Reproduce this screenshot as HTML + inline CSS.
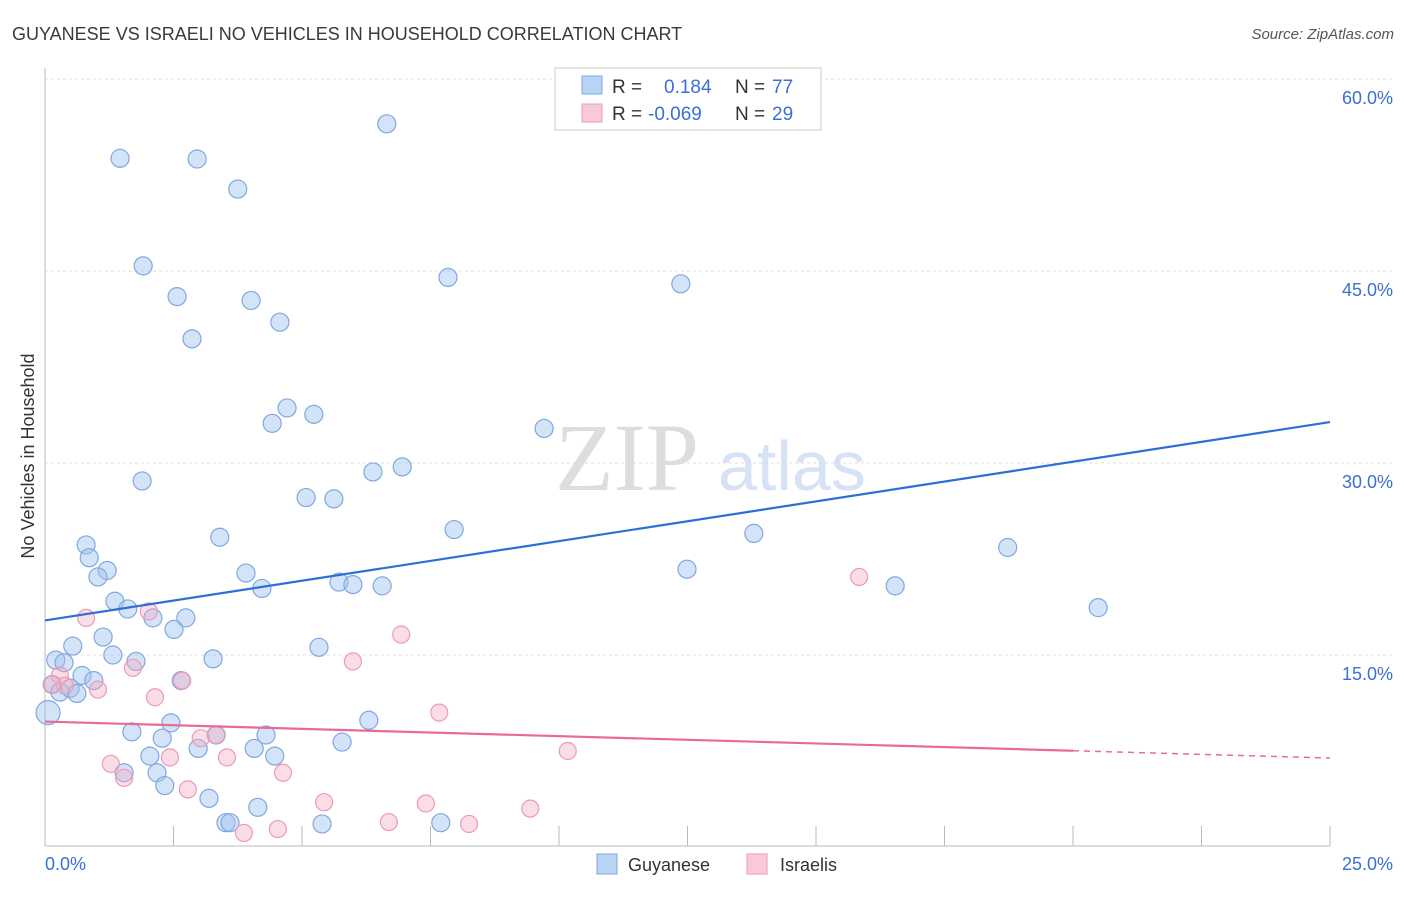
<!DOCTYPE html>
<html><head><meta charset="utf-8">
<style>
body{margin:0;background:#fff;font-family:"Liberation Sans",sans-serif;}
svg text{font-family:"Liberation Sans",sans-serif;}
</style></head>
<body>
<svg id="chart" width="1406" height="892" xmlns="http://www.w3.org/2000/svg">
<text x="12" y="40" font-size="18" fill="#3a3a3a">GUYANESE VS ISRAELI NO VEHICLES IN HOUSEHOLD CORRELATION CHART</text>
<text x="1394" y="39" font-size="15" fill="#555" text-anchor="end" font-style="italic">Source: ZipAtlas.com</text>
<text x="555" y="490" font-size="96" fill="#ddd" style="font-family:'Liberation Serif',serif">ZIP</text>
<text x="718" y="490" font-size="70" fill="#d6e2f5">atlas</text>
<text transform="translate(34,456) rotate(-90)" font-size="18" fill="#333" text-anchor="middle">No Vehicles in Household</text>
<g id="grid"></g><g id="marks"></g>
<g>
<rect x="555" y="68" width="266" height="62" fill="#fff" stroke="#ccc"/>
<rect x="582" y="76" width="20" height="18" fill="#b8d3f6" stroke="#7fa8e0"/>
<rect x="582" y="104" width="20" height="18" fill="#f9c9d8" stroke="#ee9ab5"/>
<text x="612" y="93" font-size="19" fill="#333">R =</text><text x="664" y="93" font-size="19" fill="#3a70d4">0.184</text>
<text x="735" y="93" font-size="19" fill="#333">N =</text><text x="772" y="93" font-size="19" fill="#3a70d4">77</text>
<text x="612" y="120" font-size="19" fill="#333">R =</text><text x="648" y="120" font-size="19" fill="#3a70d4">-0.069</text>
<text x="735" y="120" font-size="19" fill="#333">N =</text><text x="772" y="120" font-size="19" fill="#3a70d4">29</text>
</g>
<g>
<rect x="597" y="854" width="20" height="20" fill="#b8d3f6" stroke="#7fa8e0"/>
<text x="628" y="871" font-size="18" fill="#333">Guyanese</text>
<rect x="747" y="854" width="20" height="20" fill="#f9c9d8" stroke="#ee9ab5"/>
<text x="780" y="871" font-size="18" fill="#333">Israelis</text>
</g>
</svg>
<script>
const xTicks=[0,2.5,5,7.5,10,12.5,15,17.5,20,22.5,25];
const yTicks=[15,30,45,60];
const yTickLabels=["15.0%","30.0%","45.0%","60.0%"];
const guyX=[1.46,2.96,6.65,3.75,1.91,2.57,4.01,7.84,12.37,4.57,2.86,4.71,5.23,4.42,9.71,1.89,6.95,6.38,5.08,5.62,7.96,3.40,13.79,18.73,0.80,0.86,1.21,1.03,3.91,12.49,4.22,5.72,5.99,6.56,16.54,1.36,1.61,2.10,2.74,20.49,2.51,1.13,0.54,5.33,0.21,0.37,1.32,1.77,3.27,0.72,0.95,2.65,0.14,0.29,0.49,0.62,0.06,2.45,1.69,2.28,4.30,3.33,5.78,6.30,4.07,4.47,2.04,2.98,1.54,2.18,2.33,3.19,4.14,3.52,3.60,5.39,7.70];
const guyY=[53.8,53.75,56.5,51.4,45.4,43.0,42.7,44.5,44.0,41.0,39.7,34.3,33.8,33.1,32.7,28.6,29.7,29.3,27.3,27.2,24.8,24.2,24.5,23.4,23.6,22.6,21.6,21.1,21.4,21.7,20.2,20.7,20.5,20.4,20.4,19.2,18.6,17.9,17.9,18.7,17.0,16.4,15.7,15.6,14.6,14.4,15.0,14.5,14.7,13.4,13.0,13.0,12.7,12.1,12.4,12.0,10.5,9.7,9.0,8.5,8.75,8.75,8.2,9.9,7.7,7.1,7.1,7.7,5.8,5.8,4.8,3.8,3.1,1.9,1.9,1.8,1.9];
const isrX=[0.80,2.02,1.71,2.14,1.03,0.29,0.39,0.14,2.67,6.93,5.99,15.84,7.67,3.33,3.03,3.54,2.43,1.28,1.54,2.78,4.63,5.43,7.41,9.44,6.69,8.25,4.53,3.87,10.17];
const isrY=[17.9,18.4,14.0,11.7,12.3,13.4,12.6,12.7,13.0,16.6,14.5,21.1,10.5,8.75,8.5,7.0,7.0,6.5,5.4,4.5,5.8,3.5,3.4,3.0,1.95,1.8,1.4,1.1,7.5];
const guyTrend=[17.7,33.2];
const isrTrend=[9.8,6.95];
const NS="http://www.w3.org/2000/svg";
const X=v=>45+v/25*1285;
const Y=v=>847-v/15*192;
function mk(tag,attrs,parent){const e=document.createElementNS(NS,tag);for(const k in attrs)e.setAttribute(k,attrs[k]);parent.appendChild(e);return e;}
const grid=document.getElementById('grid'),marks=document.getElementById('marks');
yTicks.forEach((t,i)=>{
 const l=mk('line',{x1:45,x2:1395,y1:Y(t),y2:Y(t),stroke:'#ddd','stroke-dasharray':'3,3'},grid);
 
 
 const tx=mk('text',{x:1393,y:Y(t)+25,'font-size':18,fill:'#3a70d4','text-anchor':'end'},grid);
 tx.textContent=yTickLabels[i];
 
 
});
const ax=mk('line',{x1:45,x2:1330,y1:846,y2:846,stroke:'#bbb'},grid);


const ay=mk('line',{x1:45,x2:45,y1:68,y2:846,stroke:'#bbb'},grid);


xTicks.forEach(t=>{
 const l=mk('line',{x1:X(t),x2:X(t),y1:826,y2:846,stroke:'#bbb'},grid);
 
 
});
const x0=mk('text',{x:45,y:870,'font-size':18,fill:'#3a70d4'},grid);x0.textContent='0.0%';


const x1=mk('text',{x:1393,y:870,'font-size':18,fill:'#3a70d4','text-anchor':'end'},grid);x1.textContent='25.0%';


guyX.forEach((x,i)=>{
 const c=mk('circle',{cx:X(x),cy:Y(guyY[i]),r:x<0.1?12:9,fill:'rgba(160,195,240,0.45)',stroke:'#7fa8e0','stroke-width':1.2},marks);
 
 
});
isrX.forEach((x,i)=>{
 const c=mk('circle',{cx:X(x),cy:Y(isrY[i]),r:8.5,fill:'rgba(245,170,195,0.4)',stroke:'#ee9ab5','stroke-width':1.2},marks);
 
 
});
const bl=mk('line',{x1:X(0),y1:Y(guyTrend[0]),x2:X(25),y2:Y(guyTrend[1]),stroke:'#2e6fd6','stroke-width':2.2},marks);


const pAt=x=>isrTrend[0]+(isrTrend[1]-isrTrend[0])*x/25;
const pl=mk('line',{x1:X(0),y1:Y(pAt(0)),x2:X(20),y2:Y(pAt(20)),stroke:'#e86a98','stroke-width':2.2},marks);


const pd=mk('line',{x1:X(20),y1:Y(pAt(20)),x2:X(25),y2:Y(pAt(25)),stroke:'#e86a98','stroke-width':1.5,'stroke-dasharray':'6,5'},marks);


</script>
</body></html>
